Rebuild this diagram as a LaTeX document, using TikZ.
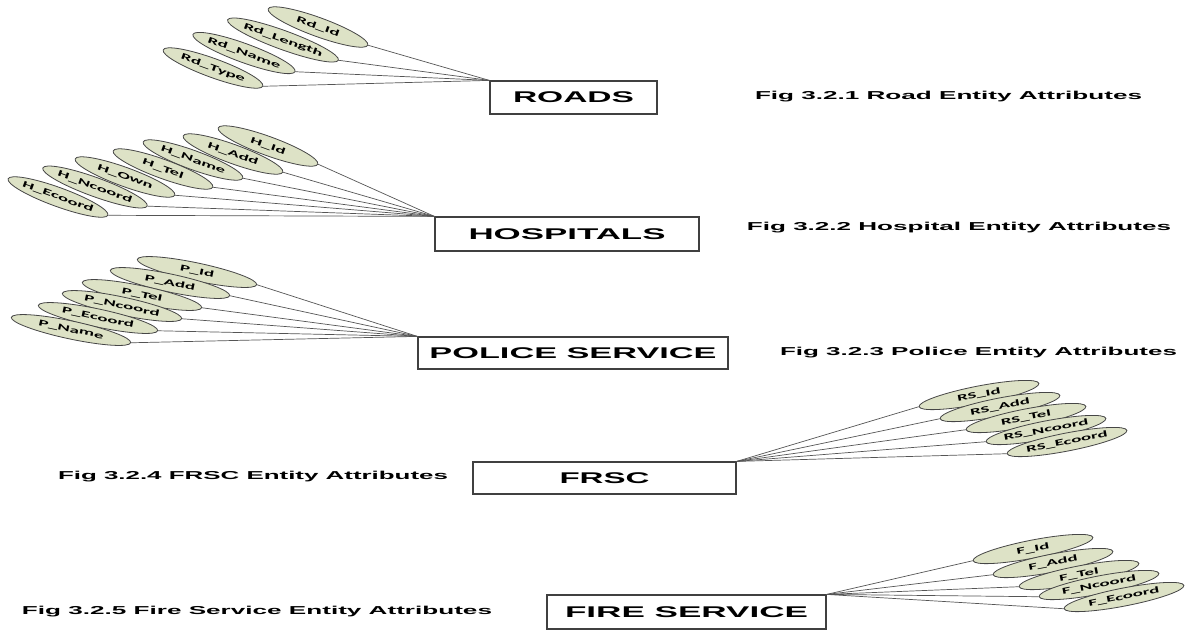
\documentclass[tikz,border=0pt]{standalone}
\usepackage{fontspec}
\setmainfont{Liberation Sans}
\newfontfamily\attrfont{Carlito}
\usepackage{graphicx}
\usetikzlibrary{shapes.geometric}
\definecolor{attrfill}{RGB}{221,226,198}
\definecolor{attrline}{RGB}{70,70,70}
\definecolor{linkgray}{RGB}{85,85,85}
\newcommand{\fitw}[2]{\resizebox{#1}{\height}{#2}}
\newcommand{\attrtxt}[1]{\scalebox{2.1}[1]{\attrfont\bfseries\fontsize{9}{10}\selectfont #1}}
\begin{document}
\begin{tikzpicture}[x=1pt,y=-1pt,
  entity/.style={draw=black!75, line width=1.2pt, fill=white, inner sep=0pt, font=\bfseries\fontsize{15.5}{16}\selectfont},
  attr/.style={ellipse, draw=attrline, line width=0.8pt, fill=attrfill, inner sep=0pt, minimum width=106pt, minimum height=19pt},
  attrflat/.style={attr, minimum width=122pt, minimum height=18pt},
  link/.style={draw=linkgray, line width=0.7pt},
  caption/.style={inner sep=0pt, font=\bfseries\fontsize{11.5}{12}\selectfont}]
\fill[white] (0,0) rectangle (1185,633);
\useasboundingbox (0,0) rectangle (1185,633);

% ---------- ROADS ----------
\node[entity, minimum width=167pt, minimum height=33pt] (roads) at (573.5,97.5) {\fitw{121pt}{ROADS}};
\node[attr, rotate=-20] (rd1) at (318,27) {\attrtxt{Rd\_Id}};
\node[attr, rotate=-20] (rd2) at (283,40) {\attrtxt{Rd\_Length}};
\node[attr, rotate=-20] (rd3) at (244,53) {\attrtxt{Rd\_Name}};
\node[attr, rotate=-20] (rd4) at (213,68) {\attrtxt{Rd\_Type}};
\foreach \n in {rd1,rd2,rd3,rd4} \draw[link] (\n.east) -- (roads.north west);
\node[caption] (c1) at (948.5,97) {\fitw{387pt}{Fig 3.2.1 Road Entity Attributes}};

% ---------- HOSPITALS ----------
\node[entity, minimum width=264pt, minimum height=34pt] (hosp) at (567,234) {\fitw{197pt}{HOSPITALS}};
\node[attr, rotate=-20] (h1) at (268,146) {\attrtxt{H\_Id}};
\node[attr, rotate=-20] (h2) at (233,154) {\attrtxt{H\_Add}};
\node[attr, rotate=-20] (h3) at (193,160) {\attrtxt{H\_Name}};
\node[attr, rotate=-20] (h4) at (163,169) {\attrtxt{H\_Tel}};
\node[attr, rotate=-20] (h5) at (125,177) {\attrtxt{H\_Own}};
\node[attr, rotate=-20] (h6) at (95,187) {\attrtxt{H\_Ncoord}};
\node[attr, rotate=-20] (h7) at (58,197) {\attrtxt{H\_Ecoord}};
\foreach \n in {h1,h2,h3,h4,h5,h6,h7} \draw[link] (\n.east) -- (hosp.north west);
\node[caption] (c2) at (959,228) {\fitw{424pt}{Fig 3.2.2 Hospital Entity Attributes}};

% ---------- POLICE SERVICE ----------
\node[entity, minimum width=310pt, minimum height=32pt] (police) at (573,353) {\fitw{287pt}{POLICE SERVICE}};
\node[attrflat, rotate=-12] (p1) at (197,272) {\attrtxt{P\_Id}};
\node[attrflat, rotate=-12] (p2) at (170,283) {\attrtxt{P\_Add}};
\node[attrflat, rotate=-12] (p3) at (142,295) {\attrtxt{P\_Tel}};
\node[attrflat, rotate=-12] (p4) at (122,306) {\attrtxt{P\_Ncoord}};
\node[attrflat, rotate=-12] (p5) at (98,318) {\attrtxt{P\_Ecoord}};
\node[attrflat, rotate=-12] (p6) at (71,330) {\attrtxt{P\_Name}};
\foreach \n in {p1,p2,p3,p4,p5,p6} \draw[link] (\n.east) -- (police.north west);
\node[caption] (c3) at (978.5,353) {\fitw{397pt}{Fig 3.2.3 Police Entity Attributes}};

% ---------- FRSC ----------
\node[entity, minimum width=263pt, minimum height=32pt] (frsc) at (604.5,478) {\fitw{90pt}{FRSC}};
\node[attrflat, rotate=11] (r1) at (979,395) {\attrtxt{RS\_Id}};
\node[attrflat, rotate=11] (r2) at (1000,407) {\attrtxt{RS\_Add}};
\node[attrflat, rotate=11] (r3) at (1026,418) {\attrtxt{RS\_Tel}};
\node[attrflat, rotate=11] (r4) at (1046,430) {\attrtxt{RS\_Ncoord}};
\node[attrflat, rotate=11] (r5) at (1067,442) {\attrtxt{RS\_Ecoord}};
\foreach \n in {r1,r2,r3,r4,r5} \draw[link] (\n.west) -- (frsc.north east);
\node[caption] (c4) at (253,477) {\fitw{390pt}{Fig 3.2.4 FRSC Entity Attributes}};

% ---------- FIRE SERVICE ----------
\node[entity, minimum width=279pt, minimum height=34pt] (fire) at (686.5,612) {\fitw{243pt}{FIRE SERVICE}};
\node[attrflat, rotate=11] (f1) at (1033,549) {\attrtxt{F\_Id}};
\node[attrflat, rotate=11] (f2) at (1053,563) {\attrtxt{F\_Add}};
\node[attrflat, rotate=11] (f3) at (1079,575) {\attrtxt{F\_Tel}};
\node[attrflat, rotate=11] (f4) at (1099,585) {\attrtxt{F\_Ncoord}};
\node[attrflat, rotate=11] (f5) at (1124,597) {\attrtxt{F\_Ecoord}};
\foreach \n in {f1,f2,f3,f4,f5} \draw[link] (\n.west) -- (fire.north east);
\node[caption] (c5) at (257,612) {\fitw{470pt}{Fig 3.2.5 Fire Service Entity Attributes}};
\end{tikzpicture}
\end{document}
